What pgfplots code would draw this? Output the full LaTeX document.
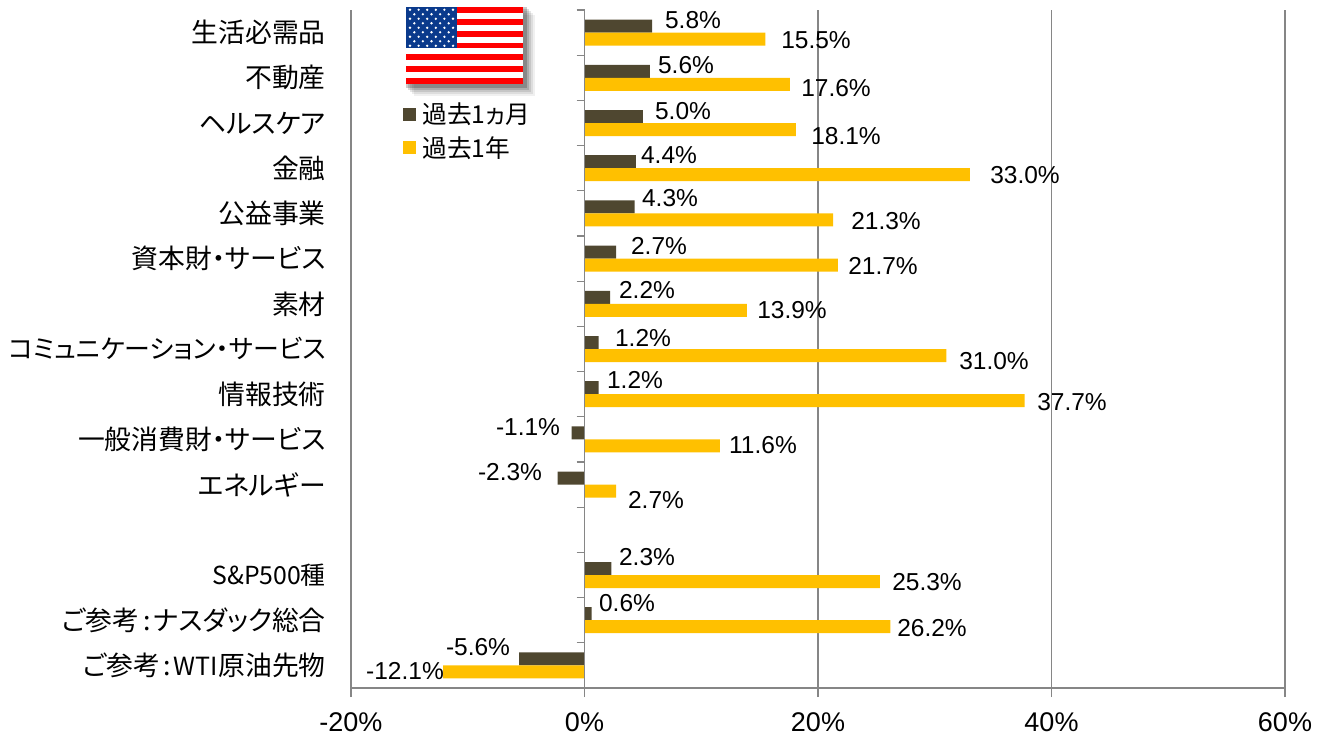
\documentclass[border=0pt]{standalone}
\usepackage{fontspec}
\setmainfont{Liberation Sans}
\newfontfamily\cjk[RawFeature={+palt}]{Noto Sans CJK JP}
\usepackage{pgfplots}
\pgfplotsset{compat=1.18}
\definecolor{dk}{HTML}{4F4730}
\definecolor{og}{HTML}{FFC000}
\definecolor{gl}{HTML}{868686}
\definecolor{fb}{HTML}{0A3A8C}
\newcommand{\lab}[3]{\node[font=\fontsize{24.5pt}{26pt}\selectfont,inner sep=0pt,text=black] at (#1pt,737pt-#2pt) {#3};}
\newcommand{\yl}[1]{{\cjk\fontsize{26.8pt}{28pt}\selectfont #1}}
\newcommand{\ylc}[1]{{\cjk\fontsize{25.9pt}{28pt}\selectfont #1}}
\newcommand{\yls}[1]{{\cjk\fontsize{24.8pt}{28pt}\selectfont #1}}
\newcommand{\cln}{\hspace{4pt}:\hspace{2pt}}
\begin{document}
\begin{tikzpicture}[x=1pt,y=1pt]
\path[use as bounding box] (0,0) rectangle (1325,737);
\begin{axis}[
  at={(351pt,49pt)},anchor=south west,
  scale only axis,width=934pt,height=678pt,
  xmin=-20,xmax=60,ymin=-0.5,ymax=14.5,
  y dir=reverse,
  axis x line*=bottom,axis y line*=left,
  axis line style={gl,line width=1.6pt,-},
  tick align=outside,major tick length=9pt,
  xtick={-20,0,20,40,60},
  xticklabels={-20\%,0\%,20\%,40\%,60\%},
  xtick style={gl,line width=1.3pt},
  xmajorgrids,grid style={gl,line width=1.5pt},
  xticklabel style={font=\fontsize{27pt}{29pt}\selectfont,yshift=-12pt},
  ytick={0,1,2,3,4,5,6,7,8,9,10,12,13,14},
  yticklabels={\yl{生活必需品},\yl{不動産},\yl{ヘルスケア},\yl{金融},\yl{公益事業},\yl{資本財・サービス},\yl{素材},\ylc{コミュニケーション・サービス},\yl{情報技術},\yl{一般消費財・サービス},\yl{エネルギー},\yls{S\&P500種},\yl{ご参考\cln ナスダック総合},\yl{ご参考\cln{\fontsize{25pt}{26pt}\selectfont WTI}\hspace{1pt}原油先物}},
  ytick style={draw=none},
  yticklabel style={anchor=east,inner sep=0pt,xshift=-16pt},
  xbar,bar width=13pt,
  legend style={at={(rel axis cs:0.055,0.866)},anchor=north west,draw=none,fill=none,
    font=\fontsize{24.7pt}{26pt}\selectfont\cjk,row sep=7pt,inner sep=0pt},
  legend cell align=left,
  legend image code/.code={\fill[#1] (0pt,-6.5pt) rectangle (13pt,6.5pt);},
]
\addplot[bar shift=6.5pt,fill=dk,draw=none] coordinates {
(5.8,0)(5.6,1)(5.0,2)(4.4,3)(4.3,4)(2.7,5)(2.2,6)(1.2,7)(1.2,8)(-1.1,9)(-2.3,10)(2.3,12)(0.6,13)(-5.6,14)};
\addlegendentry{\hspace*{5pt}過去1ヵ月}
\addplot[bar shift=-6.5pt,fill=og,draw=none] coordinates {
(15.5,0)(17.6,1)(18.1,2)(33.0,3)(21.3,4)(21.7,5)(13.9,6)(31.0,7)(37.7,8)(11.6,9)(2.7,10)(25.3,12)(26.2,13)(-12.1,14)};
\addlegendentry{\hspace*{5pt}過去1年}
\end{axis}
\begin{axis}[
  at={(351pt,49pt)},anchor=south west,
  scale only axis,width=934pt,height=678pt,
  xmin=-20,xmax=60,ymin=-0.5,ymax=14.5,
  y dir=reverse,
  axis x line=none,axis y line=middle,
  axis line style={gl,line width=1.3pt,-},
  tick align=outside,major tick length=8pt,
  xtick=\empty,
  ytick={-0.5,0.5,1.5,2.5,3.5,4.5,5.5,6.5,7.5,8.5,9.5,10.5,11.5,12.5,13.5},
  yticklabels={},
  ytick style={gl,line width=1.3pt},
]
\end{axis}
% data labels
\lab{693}{20}{5.8\%}\lab{816}{40}{15.5\%}
\lab{686}{65}{5.6\%}\lab{836}{88}{17.6\%}
\lab{683}{111}{5.0\%}\lab{846}{136}{18.1\%}
\lab{669}{155}{4.4\%}\lab{1025}{175}{33.0\%}
\lab{670}{198}{4.3\%}\lab{886}{221}{21.3\%}
\lab{659}{246}{2.7\%}\lab{883}{266}{21.7\%}
\lab{647}{290}{2.2\%}\lab{792}{310}{13.9\%}
\lab{643}{338}{1.2\%}\lab{994}{361}{31.0\%}
\lab{635}{380}{1.2\%}\lab{1072}{402}{37.7\%}
\lab{528}{427}{-1.1\%}\lab{763}{445}{11.6\%}
\lab{510}{472}{-2.3\%}\lab{656}{500}{2.7\%}
\lab{647}{557}{2.3\%}\lab{927}{582}{25.3\%}
\lab{627}{603}{0.6\%}\lab{932}{628}{26.2\%}
\lab{478}{647}{-5.6\%}\lab{405}{671}{-12.1\%}
% flag
\begin{scope}[shift={(406,653)}]
 \foreach \o/\a in {10/.06,8/.08,6/.1,4/.14,2/.2}{
  \fill[black,opacity=\a] (\o-2,-\o-2) rectangle (117+\o+2,77-\o+2);}
 \fill[white] (0,0) rectangle (117,77);
 \foreach \i in {0,2,4,6,8,10,12}{
  \fill[red] (0,77-\i*5.92) rectangle (117,77-\i*5.92-5.92);}
 \fill[fb] (0,77) rectangle (51,35.5);
 \foreach \r in {0,...,8}{
  \pgfmathsetmacro{\yy}{77-2.8-\r*4.5}
  \pgfmathtruncatemacro{\odd}{mod(\r,2)}
  \ifnum\odd=0
   \foreach \c in {0,...,5}{\fill[white] ({4+\c*8.6},\yy) circle (1.3);}
  \else
   \foreach \c in {0,...,4}{\fill[white] ({8.3+\c*8.6},\yy) circle (1.3);}
  \fi}
\end{scope}
\end{tikzpicture}
\end{document}
